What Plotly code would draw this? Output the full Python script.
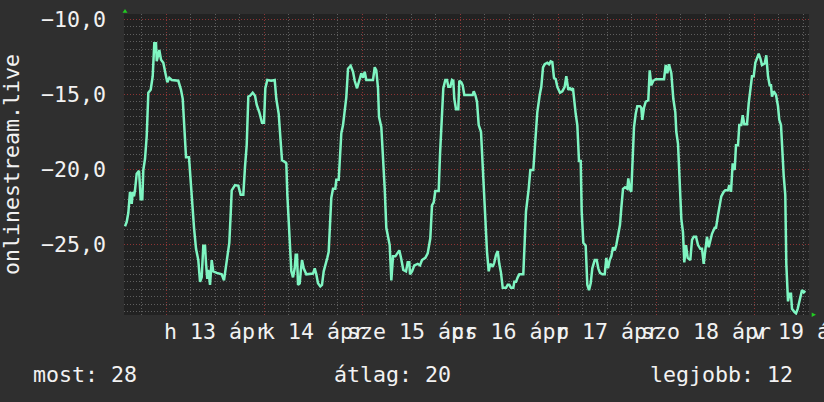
import plotly.graph_objects as go
import pandas as pd

# ---------------- data ----------------
start_day = "2015-04-13 00:00"

hours_1 = [-10.04, -9.62, -9.23, -8.82, -8.4, -8.15, -7.84, -7.6, -7.18, -6.61,
           -6.2, -5.8, -5.56, -5.14, -4.73, -4.33, -3.75, -3.26, -2.87, -2.45,
           -2.28, -1.89, -1.64, -1.22, -0.66, -0.07, 0.32, 0.81, 1.40, 3.01,
           3.67, 4.09, 4.48, 4.90, 5.63, 6.05, 6.44, 6.86, 7.35, 7.91,
           8.33, 8.74, 9.13, 9.55, 9.80, 10.11, 10.36, 10.78, 11.19, 11.58,
           12.42, 13.64, 14.20, 14.69, 15.11, 15.50, 15.85, 16.09, 16.90, 17.71,
           18.29, 18.93, 19.35, 19.76, 20.16, 20.57, 21.23, 21.80, 22.21, 22.85]
ranks_1 = [-23.8, -23.5, -22.9, -21.5, -22.3, -21.5, -21.8, -21.4, -20.3, -20.1,
           -22.0, -22.0, -20.05, -19.3, -17.8, -14.9, -14.7, -13.8, -11.6, -11.6,
           -12.8, -12.4, -12.05, -12.7, -12.9, -13.7, -14.2, -13.9, -14.05, -14.1,
           -14.7, -15.3, -17.3, -19.2, -19.2, -20.9, -22.3, -23.9, -25.3, -26.05,
           -27.5, -27.2, -25.1, -25.1, -26.3, -27.3, -26.7, -27.7, -26.05, -26.8,
           -26.9, -27.0, -27.4, -26.4, -25.8, -24.9, -22.9, -21.4, -21.05, -21.1,
           -21.7, -21.7, -19.8, -18.4, -15.15, -15.1, -14.9, -15.1, -15.7, -16.2]

hours_2 = [23.51, 24.00, 24.32, 24.81, 25.79, 26.62, 27.01, 27.60, 28.09, 28.41,
           29.07, 29.46, 29.71, 30.05, 30.29, 30.69, 31.10, 31.52, 31.76, 32.08,
           32.33, 32.74, 32.99, 33.31, 33.72, 34.36, 36.00, 36.42, 36.81, 37.22,
           37.79, 38.20, 38.62, 39.01, 39.50, 39.84, 40.09, 40.48, 40.90, 41.46,
           41.71, 42.29, 42.54, 42.93, 43.35, 43.76, 44.15, 44.57, 45.23, 45.80,
           46.21, 46.78, 47.27, 47.83, 48.25, 48.66, 49.05, 50.69, 51.11, 51.50,
           51.92, 52.16, 52.73, 53.14, 53.56, 53.95, 54.37, 54.78, 55.18, 55.59,
           56.16, 56.65]
ranks_2 = [-16.9, -16.9, -14.6, -14.05, -14.1, -14.05, -15.3, -16.3, -18.2, -19.4,
           -19.5, -19.6, -21.7, -23.5, -25.05, -26.8, -27.2, -26.6, -25.7, -25.7,
           -27.7, -27.6, -26.8, -26.05, -26.6, -27.0, -26.95, -26.6, -27.0, -27.6,
           -27.8, -27.7, -26.8, -26.3, -25.9, -25.5, -23.7, -21.9, -21.3, -21.3,
           -20.7, -20.7, -19.5, -17.6, -17.05, -16.05, -15.2, -13.3, -13.1, -13.5,
           -14.1, -14.6, -14.05, -13.6, -13.9, -13.5, -14.05, -14.05, -13.2, -13.4,
           -14.6, -16.5, -17.2, -18.9, -21.3, -23.9, -24.5, -25.05, -27.4, -25.8,
           -25.8, -25.6]

hours_3 = [57.14, 57.55, 58.11, 58.78, 59.19, 59.58, 59.76, 60.25, 60.81, 61.64,
           62.20, 62.69, 63.50, 64.09, 64.48, 64.73, 65.14, 65.56, 65.95, 66.78,
           67.10, 67.52, 67.91, 68.40, 68.82, 69.14, 69.63, 70.04, 70.36, 70.60,
           71.02, 71.58, 71.83, 72.32, 72.66, 73.05, 75.11, 75.36, 75.75, 76.16,
           76.58, 77.14, 77.39, 77.71, 78.20, 78.61, 79.03, 79.42, 80.01, 80.40,
           80.82, 81.23, 81.62, 82.04, 82.46, 83.27, 83.68, 84.07, 84.49, 85.06,
           85.30, 85.72, 86.13, 86.52, 87.50, 87.75, 88.16, 88.82, 89.22, 89.95,
           90.44]
ranks_3 = [-25.4, -25.9, -26.7, -26.8, -26.2, -26.2, -27.0, -26.8, -26.4, -26.3,
           -26.4, -26.05, -25.9, -25.6, -25.05, -24.6, -22.4, -22.2, -21.45, -21.45,
           -19.05, -16.3, -14.6, -14.05, -14.05, -14.5, -14.5, -14.05, -14.1, -15.3,
           -16.0, -16.0, -14.1, -14.2, -14.4, -15.05, -15.05, -14.8, -15.05, -15.5,
           -17.05, -17.5, -18.8, -20.5, -23.7, -25.5, -26.8, -26.3, -26.5, -26.2,
           -25.7, -25.45, -26.3, -26.9, -27.9, -27.9, -27.7, -27.7, -27.9, -27.9,
           -27.5, -27.5, -27.2, -27.0, -27.0, -25.2, -22.8, -21.3, -20.05, -20.05,
           -18.05]

hours_4 = [90.93, 91.52, 91.91, 92.33, 92.74, 93.38, 93.80, 94.21, 94.61, 95.02,
           95.44, 95.83, 96.49, 97.06, 97.64, 98.03, 98.28, 98.52, 98.94, 99.26,
           99.67, 99.92, 100.33, 100.73, 101.14, 101.56, 101.80, 102.20, 102.78, 103.18,
           103.59, 104.01, 104.40, 104.99, 105.48, 105.87, 106.29, 106.85, 107.44, 107.83,
           108.25, 108.66, 109.05, 109.47, 109.89, 110.28, 110.69, 111.18, 111.50, 111.92,
           112.41, 112.97, 113.22, 113.56, 113.95, 114.20, 114.61, 115.03, 115.42, 116.08,
           116.40, 116.64, 117.06, 117.48, 118.11, 118.46, 118.85, 119.34, 119.93, 121.96,
           122.38, 122.77, 123.18, 123.75, 124.24]
ranks_4 = [-16.2, -15.05, -14.5, -13.2, -13.0, -12.9, -13.0, -12.8, -12.85, -13.9,
           -14.0, -14.5, -14.9, -14.8, -14.5, -13.8, -14.3, -14.7, -14.6, -14.7,
           -14.6, -15.3, -16.3, -17.05, -19.45, -19.45, -22.8, -24.9, -25.1, -27.7,
           -28.05, -27.6, -26.6, -26.05, -26.05, -26.6, -26.9, -27.0, -27.0, -25.9,
           -26.6, -26.05, -25.8, -25.2, -25.4, -25.05, -24.5, -23.7, -22.6, -21.3,
           -21.2, -21.3, -20.6, -21.3, -21.5, -19.3, -17.2, -16.3, -15.8, -15.8,
           -15.9, -16.7, -15.9, -15.5, -15.4, -13.4, -14.4, -14.1, -14.0, -14.0,
           -13.05, -13.6, -13.0, -13.6, -15.3]

hours_5 = [124.73, 124.97, 125.39, 125.80, 126.20, 126.61, 126.93, 127.35, 127.76, 128.40,
           128.82, 129.23, 129.80, 130.29, 130.85, 131.27, 131.68, 132.07, 132.49, 132.91,
           133.30, 133.71, 134.38, 134.70, 135.18, 135.60, 135.99, 136.58, 136.97, 137.63,
           137.95, 138.37, 138.78, 139.27, 139.59, 140.08, 140.40, 140.89, 141.23, 141.63,
           142.29, 142.70, 143.10, 143.51, 143.93, 144.32, 144.74, 145.15, 145.55, 145.96,
           146.62, 147.01, 147.43, 147.84, 148.16, 148.41, 148.82, 149.39, 149.88, 150.19,
           150.61, 150.86, 151.27, 151.66, 151.91, 152.33, 152.65, 153.06, 153.31, 153.87,
           154.29, 154.70, 155.10, 155.52, 155.76, 156.18, 156.57]
ranks_5 = [-16.2, -17.5, -18.3, -20.5, -23.3, -24.2, -26.2, -25.05, -25.9, -26.05,
           -24.7, -24.5, -24.5, -25.05, -25.3, -25.3, -26.3, -25.4, -24.5, -25.2,
           -24.8, -24.3, -23.9, -23.9, -23.05, -22.4, -21.8, -21.5, -21.4, -21.4,
           -21.05, -21.5, -19.6, -20.05, -18.4, -18.4, -17.05, -17.05, -16.4, -17.0,
           -17.0, -15.6, -14.5, -13.8, -13.8, -12.9, -12.6, -12.3, -12.6, -13.05,
           -12.95, -12.4, -13.8, -14.4, -14.4, -15.15, -14.8, -15.05, -15.8, -16.7,
           -17.05, -18.6, -20.4, -21.7, -26.3, -28.8, -28.3, -28.3, -29.3, -29.5,
           -29.6, -29.3, -28.9, -28.4, -28.05, -28.2, -28.1]

day_ticks = ["2015-04-13", "2015-04-14", "2015-04-15", "2015-04-16",
             "2015-04-17", "2015-04-18", "2015-04-19"]
day_labels = ["h 13 ápr", "k 14 ápr", "sze 15 ápr", "cs 16 ápr",
              "p 17 ápr", "szo 18 ápr", "v 19 ápr"]
y_ticks = [-25, -20, -15, -10]
y_title = "onlinestream.live"
summary_labels = ["most: 28", "átlag: 20", "legjobb: 12"]

# ---------------- figure ----------------
hours = hours_1 + hours_2 + hours_3 + hours_4 + hours_5
ranks = ranks_1 + ranks_2 + ranks_3 + ranks_4 + ranks_5
base = pd.Timestamp(start_day)
times = base + pd.to_timedelta(hours, unit="h")

FONT = "DejaVu Sans Mono"
FS = 21.6
TXT = "#f2f2f2"
MAJOR = "#8c3535"
MINOR = "#5e5e5e"
DOT = "1px,2px"

fig = go.Figure(go.Scatter(
    x=times, y=ranks, mode="lines",
    line=dict(color="#7ff5c2", width=2.5),
    hoverinfo="skip",
))

x_range = [base + pd.Timedelta(hours=-10.29), base + pd.Timedelta(hours=157.47)]

fig.update_layout(
    width=824, height=402,
    margin=dict(l=124, r=15, t=14, b=87, autoexpand=False),
    paper_bgcolor="#2f2f2f",
    plot_bgcolor="#222222",
    separators=", ",
    showlegend=False,
    font=dict(family=FONT, size=FS, color=TXT),
    xaxis=dict(
        type="date", range=x_range, automargin=False,
        tickmode="array", tickvals=day_ticks, ticktext=day_labels,
        ticklabelshift=50, tickangle=0, ticklabeloverflow="allow",
        ticks="", ticklabelstandoff=1,
        showline=False, zeroline=False,
        showgrid=True, gridcolor=MAJOR, griddash=DOT, gridwidth=1,
        minor=dict(tick0="2015-04-13", dtick=6 * 3600 * 1000, showgrid=True,
                   gridcolor=MINOR, griddash=DOT, gridwidth=1),
        tickfont=dict(family=FONT, size=FS, color=TXT),
    ),
    yaxis=dict(
        range=[-29.71, -9.65], automargin=False,
        tickmode="array", tickvals=y_ticks, tickformat=".1f",
        ticks="", ticklabelstandoff=17,
        showline=False, zeroline=False,
        showgrid=True, gridcolor=MAJOR, griddash=DOT, gridwidth=1,
        minor=dict(tick0=-10, dtick=0.5, showgrid=True,
                   gridcolor=MINOR, griddash=DOT, gridwidth=1),
        tickfont=dict(family=FONT, size=FS, color=TXT),
    ),
)

# rotated axis title
fig.add_annotation(text=y_title, xref="paper", yref="paper", x=-0.1642, y=0.5,
                   xanchor="center", yanchor="middle", textangle=-90, showarrow=False,
                   font=dict(family=FONT, size=FS, color=TXT))

# summary row
summary_x = [-0.1358, 0.3036, 0.7650]
for sx, lab in zip(summary_x, summary_labels):
    fig.add_annotation(text=lab, xref="paper", yref="paper", x=sx, y=-0.1993,
                       xanchor="left", yanchor="middle", showarrow=False,
                       font=dict(family=FONT, size=FS, color=TXT))

# axis arrows
fig.add_shape(type="path", xref="paper", yref="paper",
              path="M -0.0022,1.0043 L 0.0051,1.0043 L 0.0015,1.0166 Z",
              fillcolor="#22cc22", line=dict(width=0))
fig.add_shape(type="path", xref="paper", yref="paper",
              path="M 1.0039,0.0083 L 1.0039,-0.0066 L 1.0102,0.0010 Z",
              fillcolor="#22cc22", line=dict(width=0))

fig.write_html("out.html",
               config={"displayModeBar": False, "staticPlot": True},
               post_script="document.body.style.margin='0px';"
                           "document.body.style.overflow='hidden';")
